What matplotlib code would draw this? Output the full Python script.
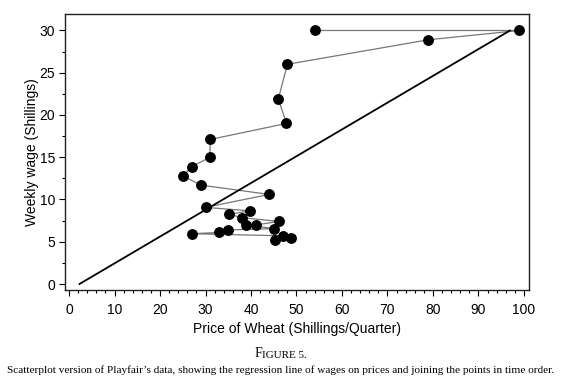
import matplotlib
matplotlib.use("Agg")
import matplotlib.pyplot as plt
import numpy as np
from matplotlib.ticker import MultipleLocator

# Playfair data in time order (price of wheat, weekly wage)
wheat = [45.3, 48.9, 47.1, 27.0, 33.0, 35.0, 45.1, 39.0, 41.1, 46.2, 38.0, 35.2,
         39.8, 30.0, 44.0, 29.0, 25.0, 27.0, 31.0, 31.0, 47.8, 46.0, 48.0, 79.0,
         99.0, 54.0]
wages = [5.2, 5.5, 5.7, 5.95, 6.1, 6.4, 6.55, 7.0, 7.0, 7.4, 7.85, 8.25,
         8.65, 9.07, 10.6, 11.7, 12.8, 13.9, 15.0, 17.1, 19.0, 21.9, 26.0, 28.9,
         30.0, 30.0]

# regression line (as drawn)
reg_intercept = -0.73
reg_slope = 0.317
reg_x = [2.3, 96.9]

x_ticks = [0, 10, 20, 30, 40, 50, 60, 70, 80, 90, 100]
y_ticks = [0, 5, 10, 15, 20, 25, 30]

fig = plt.figure(figsize=(5.61, 3.81), dpi=100)
ax = fig.add_axes([65/561, 1-290/381, (529-65)/561, (290-14)/381])

sans = ['Liberation Sans', 'DejaVu Sans']
serif = ['Liberation Serif', 'DejaVu Serif']

ax.plot(wheat, wages, color='#777777', lw=0.9, zorder=2)
ax.plot(wheat, wages, 'o', color='black', ms=6.8, zorder=3)
rx = np.array(reg_x)
ax.plot(rx, reg_intercept + reg_slope * rx, color='black', lw=1.3, zorder=4)

ax.set_xlim(-0.88, 101.1)
ax.set_ylim(-0.71, 31.95)
ax.set_xticks(x_ticks)
ax.set_yticks(y_ticks)
ax.xaxis.set_minor_locator(MultipleLocator(2))
ax.yaxis.set_minor_locator(MultipleLocator(2.5))
ax.tick_params(which='major', direction='out', length=4, width=0.8, labelsize=10)
ax.tick_params(axis='y', which='major', pad=3)
ax.tick_params(axis='x', which='major', pad=5)
ax.tick_params(which='minor', direction='out', length=2.5, width=0.8)
for lab in ax.get_xticklabels() + ax.get_yticklabels():
    lab.set_family(sans)
for s in ax.spines.values():
    s.set_linewidth(1.0)
    s.set_color('#222222')

ax.set_xlabel('Price of Wheat (Shillings/Quarter)', family=sans, fontsize=10, labelpad=4)
ax.set_ylabel('Weekly wage (Shillings)', family=sans, fontsize=10, labelpad=0.5)

t1 = fig.text(0.5, 1 - 357/381, 'F', family=serif, fontsize=10, ha='left', va='baseline')
fig.canvas.draw()
ann = ax.annotate('IGURE 5.', xy=(1, 0), xycoords=t1, ha='left', va='bottom',
                  family=serif, fontsize=8)
fig.canvas.draw()
r = fig.canvas.get_renderer()
b1 = t1.get_window_extent(r)
b2 = ann.get_window_extent(r)
total = b2.x1 - b1.x0
t1.set_x((fig.bbox.width / 2 - total / 2) / fig.bbox.width)

fig.text(0.5, 1 - 373/381,
         "Scatterplot version of Playfair\u2019s data, showing the regression line of wages on prices and joining the points in time order.",
         family=serif, fontsize=8.1, ha='center', va='baseline')

fig.savefig('out.png', dpi=100)
